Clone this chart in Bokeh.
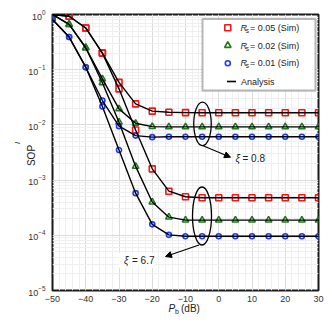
import math
from bokeh.plotting import figure
from bokeh.models import (Label, Arrow, NormalHead, BoxAnnotation, SingleIntervalTicker,
                          FixedTicker)
from bokeh.embed import file_html
from bokeh.resources import INLINE

# ---------------- data ----------------
pb_db = [-50, -45, -40, -35, -30, -25, -20, -15, -10, -5, 0, 5, 10, 15, 20, 25, 30]

# xi = 0.8
sop_rs005_xi08 = [1.0, 0.93, 0.57, 0.20, 0.059, 0.024, 0.0178, 0.0170, 0.0167, 0.0166,
                  0.0166, 0.0166, 0.0166, 0.0166, 0.0166, 0.0166, 0.0166]
sop_rs002_xi08 = [1.0, 0.66, 0.25, 0.068, 0.0195, 0.0107, 0.0093, 0.0092, 0.0092, 0.0092,
                  0.0092, 0.0092, 0.0092, 0.0092, 0.0092, 0.0092, 0.0092]
sop_rs001_xi08 = [0.81, 0.39, 0.111, 0.0276, 0.0095, 0.0064, 0.0060, 0.0061, 0.0061, 0.0061,
                  0.0061, 0.0061, 0.0061, 0.0061, 0.0061, 0.0061, 0.0061]
# xi = 6.7
sop_rs005_xi67 = [1.0, 0.93, 0.57, 0.20, 0.045, 0.0081, 0.0016, 0.00063, 0.00050, 0.00048,
                  0.00048, 0.00048, 0.00048, 0.00048, 0.00048, 0.00048, 0.00048]
sop_rs002_xi67 = [1.0, 0.66, 0.25, 0.058, 0.0112, 0.00177, 0.00040, 0.000213, 0.000188, 0.000188,
                  0.000188, 0.000188, 0.000188, 0.000188, 0.000188, 0.000188, 0.000188]
sop_rs001_xi67 = [0.81, 0.39, 0.111, 0.0216, 0.0035, 0.00058, 0.000158, 0.000102, 0.000096, 0.000096,
                  0.000096, 0.000096, 0.000096, 0.000096, 0.000096, 0.000096, 0.000096]

x_ticks = [-50, -40, -30, -20, -10, 0, 10, 20, 30]
y_ticks = [1e-5, 1e-4, 1e-3, 1e-2, 1e-1, 1.0]

legend_labels = ["0.05 (Sim)", "0.02 (Sim)", "0.01 (Sim)", "Analysis"]
xi_labels = ["0.8", "6.7"]

# ---------------- layout ----------------
XMIN, XMAX = -50, 30
LMIN, LMAX = -5, 0
FL, FT, FW, FH = 52, 14, 266, 276  # frame position on page (px)
W, H = 332, 328
FR, FB = FL + FW, FT + FH


def X(px):
    return XMIN + (px - FL) * (XMAX - XMIN) / FW


def Y(py):
    return 10 ** (LMAX - (py - FT) * (LMAX - LMIN) / FH)


FONT = "Liberation Sans"
TXT = "#222222"

p = figure(frame_width=FW, frame_height=FH, x_range=(XMIN, XMAX), y_range=(1e-5, 1.0),
           y_axis_type="log", output_backend="svg", toolbar_location=None,
           min_border_left=FL, min_border_right=W - FR, min_border_top=FT,
           min_border_bottom=H - FB)
p.background_fill_color = "white"
p.border_fill_color = "white"
p.outline_line_color = "#1a1a1a"
p.outline_line_width = 2

p.xaxis.ticker = SingleIntervalTicker(interval=10, num_minor_ticks=5)
minor_y = [k * 10 ** d for d in range(-5, 0) for k in range(2, 10)]
p.yaxis.ticker = FixedTicker(ticks=y_ticks, minor_ticks=minor_y)

for ax in (p.xaxis, p.yaxis):
    ax.axis_line_color = None
    ax.major_tick_line_color = None
    ax.minor_tick_line_color = None
    ax.major_tick_out = 0
    ax.major_tick_in = 0
    ax.minor_tick_out = 0
    ax.minor_tick_in = 0
    ax.major_label_text_font = FONT
    ax.major_label_text_font_size = "9px"
    ax.major_label_text_color = "#333333"
p.yaxis.major_label_standoff = 7
p.xaxis.major_label_standoff = 5

for g in (p.xgrid, p.ygrid):
    g.grid_line_color = "#dcdcdc"
    g.grid_line_width = 1
    g.minor_grid_line_color = "#efefef"
    g.minor_grid_line_width = 1

RED, GREEN, BLUE = "#f01818", "#1f7a1f", "#1f3cf0"

series = [
    (sop_rs005_xi08, sop_rs005_xi67, RED, "square", 6),
    (sop_rs002_xi08, sop_rs002_xi67, GREEN, "triangle", 6.5),
    (sop_rs001_xi08, sop_rs001_xi67, BLUE, "circle", 5),
]
for s08, s67, col, mk, sz in series:
    for s in (s08, s67):
        p.scatter(pb_db, s, marker=mk, size=sz, line_color=col, fill_color=None, line_width=1.6)
for s08, s67, col, mk, sz in series:
    for s in (s08, s67):
        p.line(pb_db, s, line_color="black", line_width=1.4)

# ellipses and arrows
p.ellipse(x=[X(202)], y=[Y(123.3)], width=17.5, height=43.5, width_units="screen",
          height_units="screen", fill_color=None, line_color="black", line_width=1.3)
p.ellipse(x=[X(201.5)], y=[Y(215.5)], width=19, height=58, width_units="screen",
          height_units="screen", fill_color=None, line_color="black", line_width=1.3)
p.add_layout(Arrow(end=NormalHead(size=6, fill_color="black", line_color="black"),
                   x_start=X(202), y_start=Y(145), x_end=X(230), y_end=Y(156.7),
                   line_width=1.2, line_color="black"))
p.add_layout(Arrow(end=NormalHead(size=6, fill_color="black", line_color="black"),
                   x_start=X(198.5), y_start=Y(244.5), x_end=X(165), y_end=Y(256),
                   line_width=1.2, line_color="black"))


def lab(px, py, text, size="10px", style="normal", align="left", angle=0.0, bg=None, color=TXT):
    kw = dict(x=X(px), y=Y(py), text=text, text_font=FONT, text_font_size=size,
              text_font_style=style, text_align=align, text_baseline="middle",
              text_color=color, angle=angle)
    if bg:
        kw.update(background_fill_color=bg, padding=2)
    p.add_layout(Label(**kw))


lab(118, 260, "\u03be = " + xi_labels[1] + " ", bg="white", color="white")
lab(235, 158.3, "\u03be", style="italic")
lab(242, 158.3, "= " + xi_labels[0])
lab(123.5, 260, "\u03be", style="italic")
lab(131.5, 260, "= " + xi_labels[1])

# legend (drawn manually)
p.add_layout(BoxAnnotation(left=X(202), right=X(315), top=Y(18.5), bottom=Y(90),
                           fill_color="white", fill_alpha=1.0, line_color="#111111",
                           line_width=2))
rows = [27.3, 45, 62.7, 81]
for (s08, s67, col, mk, sz), ry in zip(series, rows[:3]):
    p.scatter([X(227.3)], [Y(ry)], marker=mk, size=sz, line_color=col, fill_color=None,
              line_width=1.6, level="overlay")
p.line([X(226.5), X(235.5)], [Y(rows[3]), Y(rows[3])], line_color="black", line_width=1.6,
       level="overlay")
for ry, t in zip(rows[:3], legend_labels[:3]):
    lab(240, ry, "R", size="9px", style="italic")
    lab(245.3, ry + 2.5, "s", size="6.5px")
    lab(249.5, ry, "= " + t, size="9px")
lab(240.5, rows[3], legend_labels[3], size="9px")


# axis-title pieces placed in side panels (screen units relative to each panel slot)
def side_lab(place, sx, sy, text, size="10px", style="normal", align="left", angle=0.0):
    p.add_layout(Label(x=sx, y=sy, x_units="screen", y_units="screen", text=text,
                       text_font=FONT, text_font_size=size, text_font_style=style,
                       text_align=align, text_baseline="middle", text_color=TXT,
                       angle=angle), place)


# right panel: first slot starts at frame right edge; y measured up from frame bottom
side_lab("right", 168 - FR, FB - 308, "P", style="italic")
side_lab("right", 174.2 - (FR + 6.7), FB - 310.5, "b", size="7px")
# above panel: first slot bottom is the frame top; x measured from frame left
side_lab("above", 180.5 - FL, FT - 308, "(dB)")
# left panel (after the y axis)
side_lab("left", 16.5, FB - 155, "SOP", align="center", angle=math.pi / 2)
side_lab("left", 10, FB - 142.5, "l", size="7px", style="italic", align="center",
         angle=math.pi / 2)

open("out.html", "w").write(file_html(p, INLINE))
